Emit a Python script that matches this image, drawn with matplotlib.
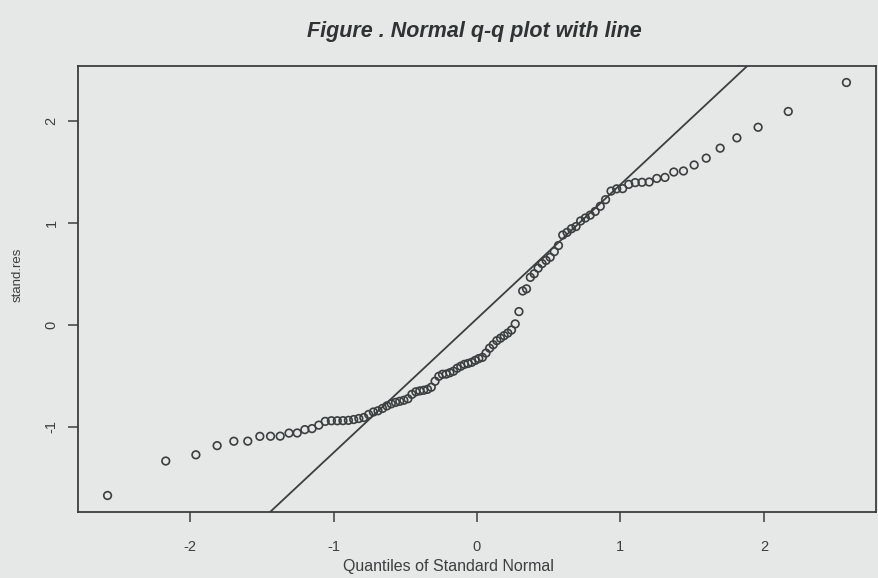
import numpy as np
import matplotlib
matplotlib.use("Agg")
import matplotlib.pyplot as plt
from statistics import NormalDist

# Sorted standardized residuals
stand_res = [
    -1.673, -1.335, -1.274, -1.184, -1.141, -1.140, -1.093, -1.092, -1.091, -1.061,
    -1.060, -1.027, -1.017, -0.983, -0.946, -0.940, -0.940, -0.939, -0.936, -0.928,
    -0.918, -0.908, -0.878, -0.854, -0.842, -0.819, -0.794, -0.774, -0.760, -0.749,
    -0.739, -0.724, -0.681, -0.656, -0.647, -0.641, -0.632, -0.611, -0.552, -0.504,
    -0.484, -0.482, -0.469, -0.454, -0.425, -0.405, -0.387, -0.378, -0.367, -0.348,
    -0.330, -0.318, -0.276, -0.228, -0.194, -0.154, -0.130, -0.105, -0.080, -0.050,
    0.010, 0.131, 0.333, 0.354, 0.467, 0.502, 0.557, 0.602, 0.633, 0.664,
    0.719, 0.779, 0.882, 0.908, 0.944, 0.965, 1.020, 1.049, 1.077, 1.113,
    1.164, 1.229, 1.313, 1.335, 1.337, 1.379, 1.396, 1.399, 1.402, 1.437,
    1.447, 1.500, 1.510, 1.569, 1.636, 1.734, 1.835, 1.939, 2.094, 2.378,
]
x_ticks = [-2, -1, 0, 1, 2]
y_ticks = [-1, 0, 1, 2]
title = "Figure . Normal q-q plot with line"
xlabel = "Quantiles of Standard Normal"
ylabel = "stand.res"

plt.rcParams["font.family"] = ["Liberation Sans", "DejaVu Sans"]
plt.rcParams["axes.unicode_minus"] = False

bg = "#e5e8e7"
ink = "#3b3f3f"

y = np.sort(np.array(stand_res))
n = len(y)
nd = NormalDist()
# qqnorm: theoretical quantiles (ppoints, a = 0.5 for n > 10)
x = np.array([nd.inv_cdf((i - 0.5) / n) for i in range(1, n + 1)])
# qqline: through the quartiles
q1, q3 = np.quantile(y, [0.25, 0.75])
z1, z3 = nd.inv_cdf(0.25), nd.inv_cdf(0.75)
slope = (q3 - q1) / (z3 - z1)
intercept = q1 - slope * z1

W, H = 879, 578
fig = plt.figure(figsize=(W / 100, H / 100), dpi=100, facecolor=bg)
L, R, T, B = 78, 876, 66, 512
ax = fig.add_axes([L / W, 1 - B / H, (R - L) / W, (B - T) / H])
ax.set_facecolor(bg)

ax.scatter(x, y, s=30, facecolors="none", edgecolors=ink, linewidths=1.2, zorder=3)

xr = x.max() - x.min()
yr = y.max() - y.min()
xlim = (x.min() - 0.04 * xr, x.max() + 0.04 * xr)
ylim = (y.min() - 0.04 * yr, y.max() + 0.04 * yr)
xx = np.array([xlim[0] - 1, xlim[1] + 1])
ax.plot(xx, intercept + slope * xx, color=ink, lw=1.3, zorder=2)
ax.set_xlim(xlim)
ax.set_ylim(ylim)

ax.set_xticks(x_ticks)
ax.set_xticklabels([str(t) for t in x_ticks], fontsize=10.5, color=ink)
ax.set_yticks(y_ticks)
ax.set_yticklabels([str(t) for t in y_ticks], fontsize=10.5, color=ink,
                   rotation=90, va="center")
ax.tick_params(axis="x", direction="out", length=7, width=1.1, colors=ink, pad=13, labelcolor=ink)
ax.tick_params(axis="y", direction="out", length=7, width=1.1, colors=ink, pad=7, labelcolor=ink)
for s in ax.spines.values():
    s.set_color(ink)
    s.set_linewidth(1.3)

fig.text(448 / W, 1 - 566 / H, xlabel, ha="center", va="center",
         fontsize=11.5, color=ink)
fig.text(18 / W, 1 - 275 / H, ylabel, ha="center", va="center",
         fontsize=9.5, color=ink, rotation=90)
fig.text(474 / W, 1 - 32 / H, title, ha="center", va="center",
         fontsize=15.5, style="italic", fontweight="bold", color="#2f3333")

fig.savefig("out.png", dpi=100, facecolor=bg)
